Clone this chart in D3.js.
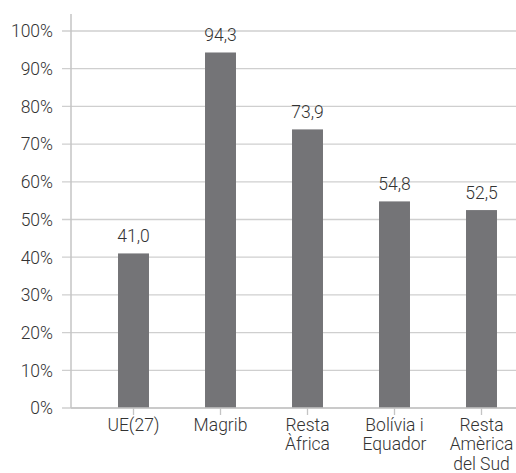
<!DOCTYPE html>
<html>
<head>
<meta charset="utf-8">
<script src="https://cdn.jsdelivr.net/npm/d3@7"></script>
<style>
  body { margin: 0; background: #fff; }
  svg text { font-family: Roboto, "Liberation Sans", sans-serif; font-weight: 300; fill: #333; }
</style>
</head>
<body>
<div id="chart"></div>
<script>
// chart data
const categories = ["UE(27)", "Magrib", "Resta Àfrica", "Bolívia i Equador", "Resta Amèrica del Sud"];
const labelLines = [["UE(27)"], ["Magrib"], ["Resta", "Àfrica"], ["Bolívia i", "Equador"], ["Resta", "Amèrica", "del Sud"]];
const values = [41.0, 94.3, 73.9, 54.8, 52.5];
const yTicks = [0, 10, 20, 30, 40, 50, 60, 70, 80, 90, 100];

const W = 516, H = 473;
const FS = "17.5px";
const svg = d3.select("#chart").append("svg").attr("width", W).attr("height", H);

const x = d3.scaleBand().domain(categories).range([90, 525]).paddingInner(0.644).paddingOuter(0.322);
const y = d3.scaleLinear().domain([0, 100]).range([408, 31]);
const axisX = 71;

// gridlines + y ticks
svg.append("g").selectAll("line").data(yTicks).enter().append("line")
    .attr("x1", 62).attr("x2", W).attr("y1", d => y(d)).attr("y2", d => y(d))
    .attr("stroke", "#cfcfcf").attr("stroke-width", 1.3);

svg.append("g").selectAll("text").data(yTicks).enter().append("text")
    .attr("x", 53).attr("y", d => y(d)).attr("dy", "0.36em")
    .attr("text-anchor", "end").style("font-size", FS)
    .text(d => d + "%");

// y axis line
svg.append("line").attr("x1", axisX).attr("x2", axisX).attr("y1", 14).attr("y2", y(0))
    .attr("stroke", "#c4c4c4").attr("stroke-width", 1.5);

// bars
svg.append("g").selectAll("rect").data(values).enter().append("rect")
    .attr("x", (d, i) => x(categories[i])).attr("width", x.bandwidth())
    .attr("y", d => y(d)).attr("height", d => y(0) - y(d))
    .attr("fill", "#747477");

// x axis baseline + ticks
svg.append("line").attr("x1", axisX).attr("x2", W).attr("y1", y(0)).attr("y2", y(0))
    .attr("stroke", "#c4c4c4").attr("stroke-width", 1.5);
svg.append("g").selectAll("line").data(categories).enter().append("line")
    .attr("x1", d => x(d) + x.bandwidth() / 2).attr("x2", d => x(d) + x.bandwidth() / 2)
    .attr("y1", y(0)).attr("y2", y(0) + 7)
    .attr("stroke", "#c4c4c4").attr("stroke-width", 1.3);

// value labels
svg.append("g").selectAll("text").data(values).enter().append("text")
    .attr("x", (d, i) => x(categories[i]) + x.bandwidth() / 2)
    .attr("y", d => y(d) - 11)
    .attr("text-anchor", "middle").style("font-size", FS)
    .text(d => d3.format(".1f")(d).replace(".", ","));

// category labels
const lg = svg.append("g");
categories.forEach((c, i) => {
    const t = lg.append("text").attr("text-anchor", "middle").style("font-size", FS)
        .attr("x", x(c) + x.bandwidth() / 2).attr("y", 431);
    labelLines[i].forEach((ln, j) => {
        t.append("tspan").attr("x", x(c) + x.bandwidth() / 2).attr("dy", j ? 19.4 : 0).text(ln);
    });
});
</script>
</body>
</html>
